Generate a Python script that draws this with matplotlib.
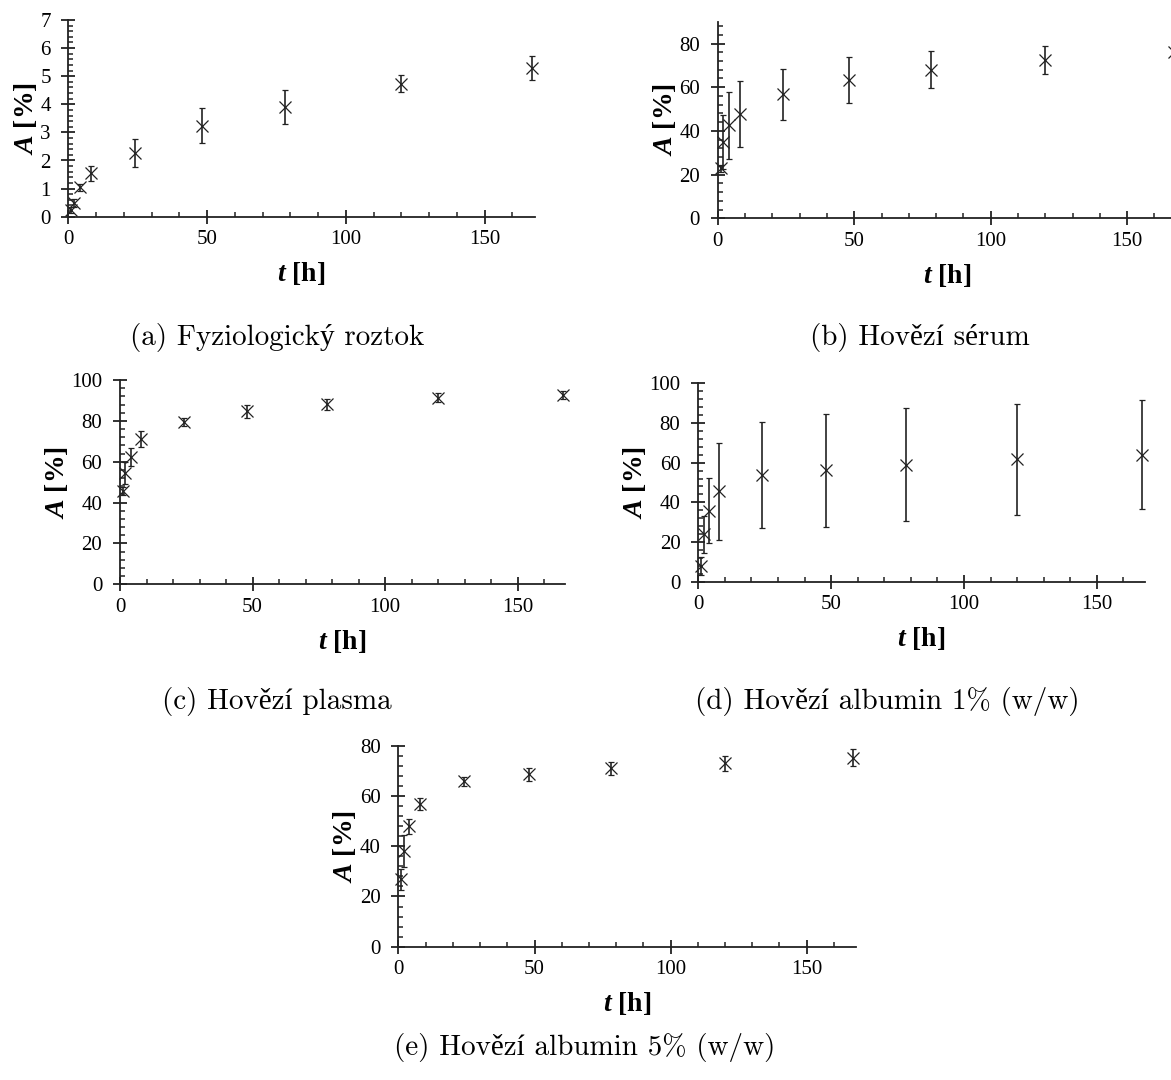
import matplotlib
matplotlib.use("Agg")
import matplotlib.pyplot as plt
from matplotlib.ticker import MultipleLocator

plt.rcParams['font.family'] = 'Liberation Serif'
plt.rcParams['mathtext.fontset'] = 'custom'
plt.rcParams['mathtext.rm'] = 'Liberation Serif'
plt.rcParams['mathtext.it'] = 'Liberation Serif:italic'
plt.rcParams['mathtext.bf'] = 'Liberation Serif:bold'
plt.rcParams['mathtext.bfit'] = 'Liberation Serif:bold:italic'

# time points [h]
t = [1, 2, 4, 8, 24, 48, 78, 120, 167]

# (a) Fyziologicky roztok
a_val = [0.24, 0.48, 1.04, 1.54, 2.27, 3.24, 3.91, 4.74, 5.29]
a_err = [0.12, 0.15, 0.12, 0.26, 0.50, 0.62, 0.60, 0.31, 0.43]
# (b) Hovezi serum
b_val = [22.9, 34.9, 42.5, 47.8, 56.7, 63.4, 68.1, 72.6, 76.0]
b_err = [1.5, 12.5, 15.2, 15.1, 11.5, 10.4, 8.3, 6.4, 6.0]
# (c) Hovezi plasma
c_val = [45.5, 54.5, 62.3, 71.1, 79.3, 84.6, 88.1, 91.4, 92.8]
c_err = [2.0, 5.3, 4.6, 3.7, 2.0, 3.4, 2.6, 2.3, 2.0]
# (d) Hovezi albumin 1%
d_val = [8.0, 23.8, 35.7, 45.5, 53.6, 56.2, 58.9, 61.6, 64.1]
d_err = [4.6, 9.2, 16.4, 24.3, 26.7, 28.5, 28.5, 27.8, 27.6]
# (e) Hovezi albumin 5%
e_val = [26.8, 38.2, 48.0, 56.7, 65.9, 68.6, 71.0, 73.0, 75.2]
e_err = [4.3, 6.3, 3.0, 2.3, 1.8, 2.5, 2.5, 3.0, 3.3]

captions = ["(a) Fyziologický roztok", "(b) Hovězí sérum", "(c) Hovězí plasma",
            "(d) Hovězí albumin 1% (w/w)", "(e) Hovězí albumin 5% (w/w)"]

W, H = 1171, 1080
fig = plt.figure(figsize=(W / 100, H / 100), dpi=100)

# panel frames in pixels: x of t=0, x of t=168, y of A=0, y of A=top
panels = [
    (a_val, a_err, 7, 1, 0.2, (68.4, 534.6, 216.7, 20.0)),
    (b_val, b_err, 90, 20, 4, (717.8, 1176.3, 218.3, 21.7)),
    (c_val, c_err, 100, 20, 4, (120.0, 565.3, 584.3, 380.0)),
    (d_val, d_err, 100, 20, 4, (698.2, 1144.7, 581.7, 383.3)),
    (e_val, e_err, 80, 20, 4, (398.4, 855.7, 946.7, 745.7)),
]
cap_pos = [(277, 337), (920, 337), (277, 702), (887, 702), (585, 1047)]

col = '#222222'
for (vals, errs, ytop, ymaj, ymin, box), cap, cp in zip(panels, captions, cap_pos):
    x0, x1, y0, y1 = box
    ax = fig.add_axes([x0 / W, 1 - y0 / H, (x1 - x0) / W, (y0 - y1) / H])
    ax.errorbar(t, vals, yerr=errs, fmt='x', color=col, ecolor=col,
                markersize=8, markeredgewidth=0.9, elinewidth=1.2,
                capsize=2.5, capthick=1.2, clip_on=False)
    ax.set_xlim(0, 168)
    ax.set_ylim(0, ytop)
    ax.xaxis.set_major_locator(MultipleLocator(50))
    ax.xaxis.set_minor_locator(MultipleLocator(10))
    ax.yaxis.set_major_locator(MultipleLocator(ymaj))
    ax.yaxis.set_minor_locator(MultipleLocator(ymin))
    for s in ['top', 'right']:
        ax.spines[s].set_visible(False)
    for s in ['left', 'bottom']:
        ax.spines[s].set_linewidth(1.3)
        ax.spines[s].set_color(col)
    ax.tick_params(which='major', direction='inout', length=9.5, width=1.3,
                   color=col, labelsize=15, labelcolor='black')
    ax.tick_params(which='minor', direction='in', length=3.8, width=1.1, color=col)
    ax.tick_params(axis='x', which='major', pad=5)
    ax.tick_params(axis='y', which='major', pad=8)
    ax.set_xlabel(r'$\mathbfit{t}$ [h]', fontsize=20, fontweight='bold', labelpad=8)
    ax.set_ylabel(r'$\mathbfit{A}$ [%]', fontsize=20, fontweight='bold', labelpad=1)
    fig.text(cp[0] / W, 1 - cp[1] / H, cap, ha='center', va='center',
             fontsize=21, family=['cmr10', 'Liberation Serif'])

fig.savefig('out.png', dpi=100)
